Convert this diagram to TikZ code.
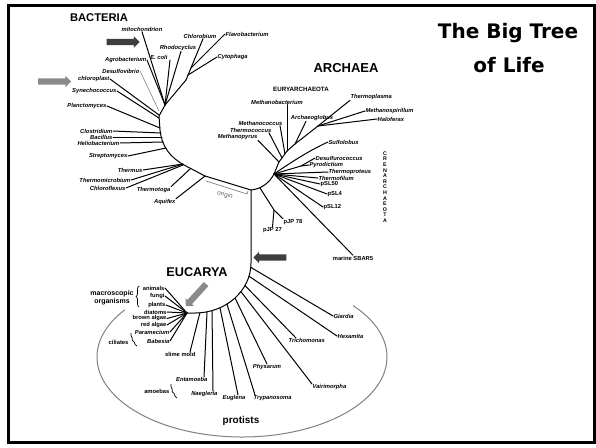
\documentclass[tikz,border=0pt]{standalone}
\usepackage{fontspec}
\setmainfont{Liberation Sans}
\newfontfamily\titlefont{DejaVu Sans}
\usetikzlibrary{shapes.arrows,decorations.pathreplacing,calc}
\definecolor{darkarrow}{HTML}{3E3E3E}
\definecolor{lightarrow}{HTML}{8A8A8A}
\begin{document}
\begin{tikzpicture}[x=1pt,y=-1pt,
  lab/.style={font=\fontsize{5.8}{6}\selectfont\bfseries\itshape, inner sep=0.4pt},
  labu/.style={font=\fontsize{5.8}{6}\selectfont\bfseries, inner sep=0.4pt},
  br/.style={line width=1pt, line cap=round, line join=round},
  thinbr/.style={line width=0.6pt, gray},
  bracestyle/.style={decorate, line width=0.7pt},
  blockarr/.style={single arrow, draw=none, inner sep=0pt, minimum height=33pt,
     minimum width=11pt, single arrow head extend=2.6pt, single arrow head indent=0pt},
  ]
\path[use as bounding box] (0,0) rectangle (596,447);
\draw[line width=3pt] (8.5,5.5) rectangle (594,442.5);

% title
\node[font=\titlefont\bfseries\fontsize{20}{22}\selectfont, anchor=base] (t1) at (508,38) {The Big Tree};
\node[font=\titlefont\bfseries\fontsize{20}{22}\selectfont, anchor=base] (t2) at (509,72) {of Life};

% group names
\node[font=\fontsize{11.2}{12}\selectfont\bfseries, inner sep=0] (bac) at (99,18) {BACTERIA};
\node[font=\fontsize{13}{14}\selectfont\bfseries, inner sep=0] (archaea) at (346,68) {ARCHAEA};
\node[font=\fontsize{6.2}{7}\selectfont\bfseries, inner sep=0] (eury) at (301,89) {EURYARCHAEOTA};
\node[font=\fontsize{5.3}{5.6}\selectfont\bfseries, align=center, inner sep=0] (cren) at (385,187)
  {C\\R\\E\\N\\A\\R\\C\\H\\A\\E\\O\\T\\A};
\node[font=\fontsize{12.7}{14}\selectfont\bfseries, inner sep=0] (euca) at (197,272) {EUCARYA};
\node[font=\fontsize{10}{12}\selectfont\bfseries, inner sep=0] (prot) at (241,421) {protists};

% ---------------- Bacteria
\coordinate (jB) at (165,105);
\coordinate (jC) at (186,80);
\coordinate (R) at (251,190);
\node[lab] (mito) at (142,29) {mitochondrion};
\node[lab,anchor=east] (agro) at (147,60) {Agrobacterium};
\node[lab,anchor=east] (desu) at (140,71) {Desulfovibrio};
\node[lab,anchor=east] (chlp) at (110,79) {chloroplast};
\node[lab,anchor=east] (syne) at (117,91) {Synechococcus};
\node[lab,anchor=east] (plan) at (107,106) {Planctomyces};
\node[lab,anchor=east] (clos) at (113,131) {Clostridium};
\node[lab,anchor=east] (baci) at (113,137) {Bacillus};
\node[lab,anchor=east] (heli) at (120,143) {Heliobacterium};
\node[lab,anchor=east] (strp) at (128,156) {Streptomyces};
\node[lab,anchor=east] (ths) at (143,170) {Thermus};
\node[lab,anchor=east] (thmi) at (131,180) {Thermomicrobium};
\node[lab,anchor=east] (chfl) at (126,188) {Chloroflexus};
\node[lab,anchor=east] (ttog) at (171,190) {Thermotoga};
\node[lab,anchor=east] (aqui) at (176,202) {Aquifex};
\node[lab,anchor=east] (ecol) at (168,57) {E. coli};
\node[lab] (rhod) at (178,48) {Rhodocyclus};
\node[lab] (chlb) at (200,36) {Chlorobium};
\node[lab,anchor=west] (flav) at (225,34) {Flavobacterium};
\node[lab,anchor=west] (cyto) at (217,57) {Cytophaga};

\draw[br] (mito.south) -- (jB);
\draw[br] (agro.east) -- (jB);
\draw[thinbr] (desu.east) -- (159,111);
\draw[br] (chlp.east) -- (159,115);
\draw[br] (syne.east) -- (159,118);
\draw[br] (plan.east) -- (160,128);
\draw[br] (clos.east) -- (161,133);
\draw[br] (baci.east) -- (162,137);
\draw[br] (heli.east) -- (163,142);
\draw[br] (strp.east) -- (166,148);
\draw[br] (ths.east) -- (183,164);
\draw[br] (thmi.east) -- (183,164);
\draw[br] (chfl.east) -- (183,165);
\draw[br] (ttog.north east) -- (190,169);
\draw[br] (aqui.north east) -- (205,176);
\draw[br] ([xshift=2pt,yshift=-3pt]ecol.east) -- (jB);
\draw[br] ([xshift=3pt]rhod.south) -- (jB);
\draw[br] ([xshift=3pt]chlb.south) -- (jC);
\draw[br] (flav.west) -- (191,68);
\draw[br] (cyto.west) -- (188,75);
\draw[br] (jC) -- (jB);
\draw[br] (jB) -- (159,116) -- (160,130) .. controls (162,147) and (170,157) .. (184,165) -- (205,176) -- (R);

% origin
\draw[gray, line width=0.7pt] (206,181) -- (247,194) -- (248,191);
\node[font=\fontsize{6.5}{7}\selectfont, text=gray!80!black, rotate=-17, inner sep=0] (orig) at (225,195) {origin};

% ---------------- Archaea
\coordinate (aC) at (274,174);
\coordinate (aE1) at (279,162);
\coordinate (aE2) at (282,158);
\coordinate (aE3) at (285,154);
\coordinate (aE4) at (287,151);
\coordinate (aE5) at (295,144);
\coordinate (b1) at (318,126);
\draw[br] (R) .. controls (262,189) and (270,182) .. (aC) -- (aE1) -- (aE4) -- (aE5) -- (b1);

\node[lab,anchor=east] (mpyr) at (258,137) {Methanopyrus};
\node[lab,anchor=east] (tcoc) at (272,130) {Thermococcus};
\node[lab,anchor=east] (mcoc) at (283,123) {Methanococcus};
\node[lab] (mbac) at (277,102) {Methanobacterium};
\node[lab] (arch) at (312,118) {Archaeoglobus};
\node[lab,anchor=west] (thpl) at (350,97) {Thermoplasma};
\node[lab,anchor=west] (mspi) at (365,111) {Methanospirillum};
\node[lab,anchor=west] (halo) at (377,119) {Haloferax};

\draw[br] (mpyr.south east) -- (aE1);
\draw[br] ([xshift=-3pt]tcoc.south east) -- (aE2);
\draw[br] ([xshift=-3pt]mcoc.south east) -- (aE3);
\draw[br] ([xshift=10pt]mbac.south) -- (aE4);
\draw[br] ([xshift=-6pt]arch.south) -- (aE5);
\draw[br] (b1) -- (thpl.south west);
\draw[br] (b1) -- (mspi.west);
\draw[br] (b1) -- (halo.west);

\node[lab,anchor=west] (sulf) at (328,142) {Sulfolobus};
\node[lab,anchor=west] (desf) at (315,158) {Desulfurococcus};
\node[lab,anchor=west] (pyro) at (309,165) {Pyrodictium};
\node[lab,anchor=west] (tprt) at (328,172) {Thermoproteus};
\node[lab,anchor=west] (tfil) at (318,178) {Thermofilum};
\node[labu,anchor=west] (psl50) at (320,184) {pSL50};
\node[labu,anchor=west] (psl4) at (327,194) {pSL4};
\node[labu,anchor=west] (psl12) at (323,207) {pSL12};
\node[labu] (sbar) at (353,258) {marine SBAR5};
\node[labu,anchor=west] (p78) at (283,222) {pJP 78};
\node[labu] (p27) at (272.5,230) {pJP 27};

\coordinate (cD) at (301,166);
\draw[br] (aC) .. controls (290,163) and (310,150) .. (sulf.west);
\draw[br] (aC) -- (cD) -- (desf.west);
\draw[br] (cD) -- (pyro.west);
\draw[br] (aC) -- (tprt.west);
\draw[br] (aC) -- (tfil.west);
\draw[br] (aC) -- (psl50.west);
\draw[br] (aC) -- (psl4.west);
\draw[br] (aC) -- (psl12.west);
\draw[br] (aC) -- (sbar.north);
\coordinate (pA) at (260,188);
\coordinate (pj) at (274,210);
\draw[br] (pA) -- (pj) -- (p78.north west);
\draw[br] (pj) -- (p27.north);

% ---------------- Eucarya
\coordinate (eT) at (251,263);
\coordinate (eC) at (195,263);
\coordinate (e0) at (187,313);
\draw[br] (R) -- (eT) arc[start angle=0, end angle=90, x radius=56, y radius=50] -- (e0);

\node[labu,anchor=east] (anim) at (165,288) {animals};
\node[labu,anchor=east] (fung) at (165,296) {fungi};
\node[labu,anchor=east] (plnt) at (166,305) {plants};
\node[labu,anchor=east] (diat) at (167,312) {diatoms};
\node[labu,anchor=east] (brwn) at (167,318.5) {brown algae};
\node[labu,anchor=east] (reda) at (167,325) {red algae};
\node[lab,anchor=east] (para) at (170,332) {Paramecium};
\node[lab,anchor=east] (babe) at (170,341) {Babesia};
\foreach \n in {anim,fung,plnt,diat,brwn,reda,para,babe}
  \draw[br] (\n.east) -- (e0);

\node[font=\fontsize{7}{7.6}\selectfont\bfseries, align=center, inner sep=0] (macro) at (112,297.5) {macroscopic\\organisms};
\draw[bracestyle, decoration={brace, amplitude=3pt}] (139,307) -- (139,286);
\node[labu,anchor=east] (cili) at (129,342) {ciliates};
\draw[bracestyle, decoration={brace, amplitude=2pt}] (137,346) -- (131,333);
\node[labu,anchor=east] (amoe) at (170,391) {amoebas};
\draw[bracestyle, decoration={brace, amplitude=2pt}] (177,398) -- (171,384);

\node[labu,anchor=north east] (slim) at (196,352) {slime mold};
\node[lab,anchor=north east] (enta) at (208,377) {Entamoeba};
\node[lab,anchor=north east] (naeg) at (218,391) {Naegleria};
\node[lab,anchor=north] (eugl) at (234,395) {Euglena};
\node[lab,anchor=north west] (tryp) at (253,395) {Trypanosoma};
\node[lab,anchor=north] (phys) at (267,364) {Physarum};
\node[lab,anchor=north west] (vair) at (312,384) {Vairimorpha};
\node[lab,anchor=north west] (tric) at (288,338) {Trichomonas};
\node[lab,anchor=west] (hexa) at (337,336) {Hexamita};
\node[lab,anchor=west] (giar) at (333,316) {Giardia};

\draw[br] ($(eC)+(85:56 and 50)$) -- ([xshift=-6pt]slim.north east);
\draw[br] ($(eC)+(77.6:56 and 50)$) -- ([xshift=-4pt]enta.north east);
\draw[br] ($(eC)+(72.3:56 and 50)$) -- ([xshift=-5pt]naeg.north east);
\draw[br] ($(eC)+(63.5:56 and 50)$) -- ([xshift=4pt]eugl.north);
\draw[br] ($(eC)+(55.2:56 and 50)$) -- ([xshift=2pt]tryp.north west);
\draw[br] ($(eC)+(44.4:56 and 50)$) -- (phys.north);
\draw[br] ($(eC)+(34.9:56 and 50)$) -- (vair.north west);
\draw[br] ($(eC)+(26.8:56 and 50)$) -- ([xshift=8pt]tric.north west);
\draw[br] ($(eC)+(15.3:56 and 50)$) -- (hexa.west);
\draw[br] ($(eC)+(5:56 and 50)$) -- (giar.west);

% protists ellipse
\coordinate (elC) at (242,357);
\draw[gray, line width=1pt] ($(elC)+(-40:145 and 80)$) arc[start angle=-40, end angle=216, x radius=145, y radius=80];

% arrows
\node[blockarr, fill=darkarrow] (a1) at (121.5,42) {\rule{0pt}{5.8pt}};
\node[blockarr, fill=lightarrow] (a2) at (53,81.5) {\rule{0pt}{5.8pt}};
\node[blockarr, fill=darkarrow, rotate=180] (a3) at (271.5,257.5) {\rule{0pt}{5.8pt}};
\node[blockarr, fill=lightarrow, rotate=227.7, minimum height=30pt] (a4) at (197,294) {\rule{0pt}{5.8pt}};
\end{tikzpicture}
\end{document}
